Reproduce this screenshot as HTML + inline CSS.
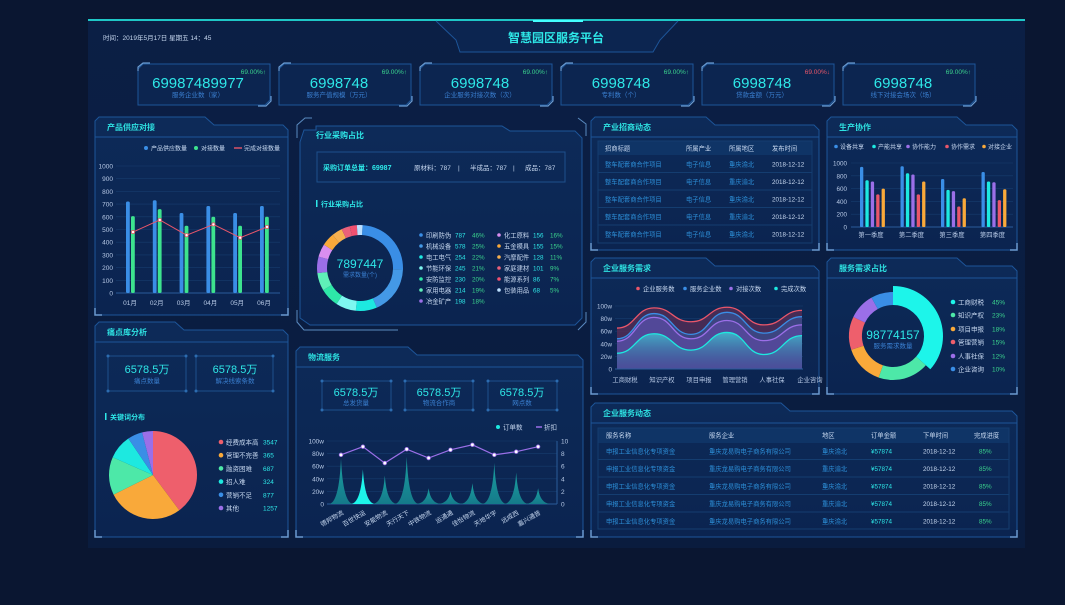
<!DOCTYPE html>
<html><head><meta charset="utf-8">
<style>
html,body{margin:0;padding:0;background:#0a1631;}
body{width:1065px;height:600px;overflow:hidden;font-family:"Liberation Sans","Noto Sans CJK SC",sans-serif;}
svg text{font-family:"Liberation Sans","Noto Sans CJK SC",sans-serif;}
</style></head><body>
<svg id="s" width="1065" height="600" viewBox="0 0 1065 600" xmlns="http://www.w3.org/2000/svg">
<defs>
<linearGradient id="bgG" x1="0" y1="0" x2="0" y2="1"><stop offset="0" stop-color="#0b1f45"/><stop offset="1" stop-color="#0a1c3e"/></linearGradient>
<linearGradient id="panG" x1="0" y1="0" x2="0" y2="1"><stop offset="0" stop-color="#0d2a58"/><stop offset="1" stop-color="#0b2450"/></linearGradient>
<linearGradient id="cyanA" x1="0" y1="0" x2="0" y2="1"><stop offset="0" stop-color="#3fd0d8" stop-opacity="0.75"/><stop offset="1" stop-color="#2a6aa0" stop-opacity="0.15"/></linearGradient>
<linearGradient id="spk" x1="0" y1="0" x2="0" y2="1"><stop offset="0" stop-color="#1a9fa0"/><stop offset="1" stop-color="#157a8a"/></linearGradient>
</defs>
<rect x="0" y="0" width="1065" height="600" fill="#0a1631"/>
<rect x="88" y="20" width="937" height="528" fill="url(#bgG)"/>
<rect x="88" y="19" width="937" height="2" fill="#1fc7c7"/>
<g id="root"></g>
</svg>
<script>
// ---------- data ----------
const supplyMonths=["01月","02月","03月","04月","05月","06月"];
const supplyBlue=[720,730,630,685,630,685];
const supplyGreen=[605,660,530,600,530,600];
const supplyLine=[480,575,455,540,435,520];
const supplyTicks=[0,100,200,300,400,500,600,700,800,900,1000];

const coopCats=["第一季度","第二季度","第三季度","第四季度"];
const coopNames=["设备共享","产能共享","协作能力","协作需求","对接企业"];
const coopS1=[940,950,750,860];
const coopS2=[730,840,580,710];
const coopS3=[710,820,560,700];
const coopS4=[510,510,320,420];
const coopS5=[600,710,450,590];
const coopTicks=[0,200,400,600,800,1000];

const industryNames=["印刷防伪","机械设备","电工电气","节能环保","安防监控","家用电器","冶金矿产","化工原料","五金模具","汽摩配件","家庭建材","能源系列","包装用品"];
const industryValues=[787,578,254,245,230,214,198,156,155,128,101,86,68];
const industryPct=["46%","25%","22%","21%","20%","19%","18%","16%","15%","11%","9%","7%","5%"];

const painNames=["经费成本高","管理不完善","融资困难","招人难","营销不足","其他"];
const painLegendValues=[3547,365,687,324,877,1257];
const painShares=[40,28,14,9,5.5,4];

const logiCats=["德邦物流","百世快运","安能物流","天行天下","中铁物流","运通通","佳怡物流","天地华宇","远成西","嘉兴通普"];
const logiOrders=[72,55,45,75,25,20,33,65,50,25];
const logiDiscount=[7.8,9.1,6.5,8.7,7.3,8.6,9.4,7.8,8.3,9.1];
const logiTicksL=["0","20w","40w","60w","80w","100w"];
const logiTicksR=[0,2,4,6,8,10];

const demandCats=["工商财税","知识产权","项目申报","管理营销","人事社保","企业咨询"];
const demandNames=["企业服务数","服务企业数","对接次数","完成次数"];
const demandS1=[65,97,75,98,70,93];
const demandS2=[48,88,55,90,57,83];
const demandS3=[44,82,48,77,45,70];
const demandS4=[25,56,30,58,23,53];
const demandTicks=["0","20w","40w","60w","80w","100w"];

const ratioNames=["工商财税","知识产权","项目申报","管理营销","人事社保","企业咨询"];
const ratioValues=[45,23,18,15,12,10];

// ---------- helpers ----------
const NS="http://www.w3.org/2000/svg";
const root=document.getElementById('root');
function el(tag,attrs,parent,txt){const e=document.createElementNS(NS,tag);for(const k in attrs)e.setAttribute(k,attrs[k]);if(txt!==undefined)e.textContent=txt;(parent||root).appendChild(e);return e;}
function T(x,y,s,size,fill,anchor,name,weight){const t=el('text',{x:x,y:y,'font-size':size,fill:fill,'text-anchor':anchor||'start'},root,s);if(weight)t.setAttribute('font-weight',weight);


return t;}
function panel(x,y,w,h,title,tab,name){
  const g=el('g',{});
  
  
  el('path',{d:`M${x} ${y+4} L${x+4} ${y} L${x+tab} ${y} L${x+tab+9} ${y+8} L${x+w-5} ${y+8} L${x+w} ${y+13} L${x+w} ${y+h} L${x} ${y+h} Z`,fill:'url(#panG)',stroke:'#1d5599','stroke-width':1},g);
  el('line',{x1:x,y1:y+20,x2:x+w,y2:y+20,stroke:'#1d5599','stroke-width':1},g);
  el('path',{d:`M${x} ${y+h-7} L${x} ${y+h} L${x+7} ${y+h} M${x+w-7} ${y+h} L${x+w} ${y+h} L${x+w} ${y+h-7}`,fill:'none',stroke:'#6a9ad0','stroke-width':1.5},g);
  T(x+12,y+13,title,8,'#2ee3e3','start',name+'-title','bold');
}
function box(x,y,w,h,name){
  const r=el('rect',{x:x,y:y,width:w,height:h,fill:'none',stroke:'#1d4f8c','stroke-width':1});
  
  [[x,y],[x+w,y],[x,y+h],[x+w,y+h]].forEach(p=>el('circle',{cx:p[0],cy:p[1],r:1.5,fill:'#2c6cb0'}));
}
function dot(x,y,c,r){el('circle',{cx:x,cy:y,r:r||2,fill:c});}
function arc(cx,cy,r0,r1,a0,a1,fill,name){
  const p=(r,a)=>[cx+r*Math.sin(a),cy-r*Math.cos(a)];
  const L=(a1-a0)>Math.PI?1:0;
  const A=p(r1,a0),B=p(r1,a1),C=p(r0,a1),D=p(r0,a0);
  const e=el('path',{d:`M${A} A${r1} ${r1} 0 ${L} 1 ${B} L${C} A${r0} ${r0} 0 ${L} 0 ${D} Z`,fill:fill});
  
  return e;
}
function smooth(pts){let d=`M${pts[0][0]} ${pts[0][1]}`;for(let i=0;i<pts.length-1;i++){const p0=pts[i],p1=pts[i+1],mx=(p0[0]+p1[0])/2;d+=` C${mx} ${p0[1]} ${mx} ${p1[1]} ${p1[0]} ${p1[1]}`;}return d;}

// ---------- header ----------
(function(){
  const h=el('path',{d:'M436 21 L456 40 L460 52 L653 52 L660 40 L678 21',fill:'#0c2550',stroke:'#1d5599'});
  
  el('rect',{x:533,y:20,width:50,height:2,fill:'#4ff'});
  T(556,42,'智慧园区服务平台',12,'#2ee8e8','middle','page-title','bold');
  T(103,40,'时间：2019年5月17日    星期五    14：45',6.5,'#c7d8f0','start','datetime');
})();

// ---------- KPI cards ----------
const kpiValues=["69987489977","6998748","6998748","6998748","6998748","6998748"];
const kpiLabels=["服务企业数（家）","服务产值规模（万元）","企业服务对接次数（次）","专利数（个）","贷款金额（万元）","线下对接会场次（场）"];
const kpiUp=[true,true,true,true,false,true];
kpiValues.forEach((v,i)=>{
  const x=138+i*141,y=64,w=132,h=41;
  const g=el('path',{d:`M${x+5} ${y} L${x+w} ${y} L${x+w} ${y+h-5} L${x+w-5} ${y+h} L${x} ${y+h} L${x} ${y+5} Z`,fill:'#0c2550',stroke:'#1d5599'});
  
  el('path',{d:`M${x} ${y+7} L${x} ${y+3} L${x+5} ${y-1} L${x+12} ${y-1} M${x+w+1} ${y+h-9} L${x+w+1} ${y+h-4} L${x+w-4} ${y+h+1} L${x+w-12} ${y+h+1}`,fill:'none',stroke:'#6a9ad0','stroke-width':1.2});
  T(x+w-4,y+10,kpiUp[i]?'69.00%↑':'69.00%↓',6.5,kpiUp[i]?'#3bd48e':'#e9566a','end','kpi-change');
  T(x+w/2-6,y+24,v,15,'#2ee8e8','middle','kpi-value');
  T(x+w/2-6,y+33,kpiLabels[i],6.5,'#3a7fd0','middle','kpi-label');
});

// ---------- 产品供应对接 ----------
panel(95,117,193,198,'产品供应对接',110,'supply-panel');
(function(){
  const x0=116,x1=280,y0=293,y1=166;
  const yS=v=>y0-(v/1000)*(y0-y1);
  const xS=i=>132+i*26.8;
  supplyTicks.forEach(t=>{el('line',{x1:x0,y1:yS(t),x2:x1,y2:yS(t),stroke:'#163c6e','stroke-width':0.6});T(x0-3,yS(t)+2.5,String(t),6.5,'#b7c9e6','end','y-tick');});
  el('line',{x1:x0,y1:y0,x2:x1,y2:y0,stroke:'#2a5c9a'});
  supplyMonths.forEach((m,i)=>{
    const b=el('rect',{x:xS(i)-6,y:yS(supplyBlue[i]),width:3.8,height:y0-yS(supplyBlue[i]),fill:'#3a8ee6',rx:1.5});
    
    const g=el('rect',{x:xS(i)-1,y:yS(supplyGreen[i]),width:3.8,height:y0-yS(supplyGreen[i]),fill:'#3de38e',rx:1.5});
    
    T(xS(i)-2,305,m,6.5,'#b7c9e6','middle','x-tick');
  });
  const pts=supplyLine.map((v,i)=>[xS(i)+1,yS(v)]);
  const l=el('polyline',{points:pts.map(p=>p.join(',')).join(' '),fill:'none',stroke:'#e9566a','stroke-width':1});
  
  pts.forEach(p=>el('circle',{cx:p[0],cy:p[1],r:1.6,fill:'#fff',stroke:'#e9566a','stroke-width':0.8}));
  dot(146,148,'#3a8ee6');T(151,150.5,'产品供应数量',6,'#c7d8f0','start','legend-entry');
  dot(196,148,'#3de38e');T(201,150.5,'对接数量',6,'#c7d8f0','start','legend-entry');
  el('line',{x1:234,y1:148,x2:242,y2:148,stroke:'#e9566a','stroke-width':1.4});T(244,150.5,'完成对接数量',6,'#c7d8f0','start','legend-entry');
})();

// ---------- 痛点库分析 ----------
panel(95,322,193,215,'痛点库分析',80,'pain-panel');
(function(){
  box(108,356,78,35,'pain-box-1');box(196,356,77,35,'pain-box-2');
  T(147,373,'6578.5万',11,'#2ee8e8','middle','pain-count');T(147,383,'痛点数量',6.5,'#3a7fd0','middle','label');
  T(235,373,'6578.5万',11,'#2ee8e8','middle','solve-count');T(235,383,'解决线索条数',6.5,'#3a7fd0','middle','label');
  el('rect',{x:105,y:413,width:1.5,height:7,fill:'#2ee8e8'});
  T(110,419.5,'关键词分布',7,'#2ee8e8','start','keyword-title','bold');
  const cols=['#ee5f6c','#f9a93a','#4de8a8','#1de9e0','#3a8ee6','#9b6fe8'];
  const tot=painShares.reduce((a,b)=>a+b,0);let a=0;
  painShares.forEach((v,i)=>{const a1=a+v/tot*2*Math.PI;arc(153,475,0,44,a,a1,cols[i],'pie-'+painNames[i]);a=a1;});
  painNames.forEach((n,i)=>{const y=442+i*13.2;dot(221,y,cols[i],2.3);T(226,y+2.5,n,6.5,'#c7d8f0','start','legend-entry');T(263,y+2.5,String(painLegendValues[i]),6.5,'#2ee8e8','start','legend-value');});
})();

// ---------- 行业采购占比 ----------
(function(){
  el('path',{d:'M300 142 L304 130 L316 130 L316 126 L502 126 L510 131 L575 131 L582 138 L582 318 L575 325 L310 325 L300 318 Z',fill:'url(#panG)',stroke:'#1d5599'});
  el('path',{d:'M297 138 L297 125 L305 118 L312 118 M578 118 L586 124 L586 136 M297 310 L297 322 L304 330 L398 330 M586 312 L586 322 L578 330',fill:'none',stroke:'#5a8ac0','stroke-width':1});
  T(316,138,'行业采购占比',8,'#2ee8e8','start','industry-title','bold');
  el('rect',{x:317,y:152,width:248,height:30,fill:'none',stroke:'#1d4f8c'});
  T(323,170,'采购订单总量：69987',7,'#2ee8e8','start','order-total','bold');
  T(414,170,'原材料：787',6.5,'#c7d8f0','start','raw-material');T(458,170,'|',6.5,'#c7d8f0');
  T(470,170,'半成品：787',6.5,'#c7d8f0','start','semi-product');T(513,170,'|',6.5,'#c7d8f0');
  T(525,170,'成品：787',6.5,'#c7d8f0','start','product');
  el('rect',{x:316,y:200,width:1.5,height:7,fill:'#2ee8e8'});
  T(321,206.5,'行业采购占比',7,'#2ee8e8','start','industry-sub-title','bold');
  const cols=['#3a8ee6','#4499e6','#1de9e0','#7ef7f0','#2ee8a8','#5ff0b8','#9b6fe8','#d98ef0','#f9a93a','#f5b050','#e9607a','#f05070','#bde0ff'];
  const tot=industryValues.reduce((a,b)=>a+b,0);let a=0.06;
  industryValues.forEach((v,i)=>{const a1=a+v/tot*2*Math.PI;arc(360,268,33,43,a,a1,cols[i],'donut-'+industryNames[i]);a=a1;});
  T(360,268,'7897447',12,'#2ee8e8','middle','demand-total');
  T(360,277,'需求数量(个)',6,'#3a7fd0','middle','label');
  industryNames.forEach((n,i)=>{
    const c=i<7?0:1,r=i<7?i:i-7;const bx=c?499:421,y=235+r*11;
    dot(bx,y,cols[i],1.8);T(bx+5,y+2.3,n,6.3,'#c7d8f0','start','legend-entry');
    T(bx+34,y+2.3,String(industryValues[i]),6.3,'#2ee8e8','start','legend-value');
    T(bx+51,y+2.3,industryPct[i],6.3,'#3bd48e','start','legend-pct');
  });
})();

// ---------- 物流服务 ----------
panel(296,347,287,190,'物流服务',112,'logistics-panel');
(function(){
  box(322,381,69,29,'logi-box-1');box(405,381,68,29,'logi-box-2');box(488,381,69,29,'logi-box-3');
  [['总发货量',356],['物流合作商',439],['网点数',522]].forEach(p=>{T(p[1],396,'6578.5万',11,'#2ee8e8','middle','logi-value');T(p[1],405,p[0],6.5,'#3a7fd0','middle','label');});
  dot(498,427,'#1de9e0');T(503,429.5,'订单数',6.5,'#c7d8f0','start','legend-entry');
  el('line',{x1:536,y1:427,x2:542,y2:427,stroke:'#9b6fe8','stroke-width':1.5});T(544,429.5,'折扣',6.5,'#c7d8f0','start','legend-entry');
  const x0=327,x1=557,y0=504,y1=441;
  const yL=v=>y0-v/100*(y0-y1),yR=v=>y0-v/10*(y0-y1);
  const xS=i=>341+i*21.9;
  logiTicksL.forEach((t,i)=>{const y=y0-i*(y0-y1)/5;el('line',{x1:x0,y1:y,x2:x1,y2:y,stroke:'#163c6e','stroke-width':0.6});T(x0-3,y+2.5,t,6.5,'#b7c9e6','end','y-tick');});
  logiTicksR.forEach(t=>T(x1+4,yR(t)+2.5,String(t),6.5,'#b7c9e6','start','y2-tick'));
  el('line',{x1:x0,y1:y0,x2:x1,y2:y0,stroke:'#2a5c9a'});
  el('line',{x1:x1,y1:y0,x2:x1,y2:y1,stroke:'#2a5c9a'});
  logiOrders.forEach((v,i)=>{const cx=xS(i),py=yL(v),w=12;
    const p=el('path',{d:`M${cx-w} ${y0} Q${cx-2} ${y0-1} ${cx} ${py} Q${cx+2} ${y0-1} ${cx+w} ${y0} Z`,fill:i===1?'#1df5ea':'url(#spk)'});
    
    const t=T(cx+3,y0+10,logiCats[i],6.3,'#c7d8f0','end','x-tick');t.setAttribute('transform',`rotate(-30 ${cx+3} ${y0+10})`);
  });
  const pts=logiDiscount.map((v,i)=>[xS(i),yR(v)]);
  const l=el('polyline',{points:pts.map(p=>p.join(',')).join(' '),fill:'none',stroke:'#9b6fe8','stroke-width':1.2});
  
  pts.forEach(p=>el('circle',{cx:p[0],cy:p[1],r:1.8,fill:'#fff',stroke:'#9b6fe8','stroke-width':0.8}));
})();

// ---------- 产业招商动态 ----------
panel(591,117,228,133,'产业招商动态',115,'investment-panel');
(function(){
  el('rect',{x:598,y:141,width:214,height:14,fill:'#0f3466'});
  el('rect',{x:598,y:141,width:214,height:102,fill:'none',stroke:'#143d70'});
  [['招商标题',605],['所属产业',686],['所属地区',729],['发布时间',772]].forEach(h=>T(h[1],150.5,h[0],6.3,'#c7d8f0','start','table-header'));
  for(let r=0;r<5;r++){const y=166.5+r*17.5;
    if(r<4)el('line',{x1:598,y1:y+6,x2:812,y2:y+6,stroke:'#143d70'});
    T(605,y,'整车配套商合作项目',6.3,'#2d8fd8','start','cell-title');
    T(686,y,'电子信息',6.3,'#2d8fd8','start','cell-industry');
    T(729,y,'重庆渝北',6.3,'#2d8fd8','start','cell-region');
    T(772,y,'2018-12-12',6.3,'#c7d8f0','start','cell-date');}
})();

// ---------- 生产协作 ----------
panel(827,117,190,133,'生产协作',130,'coop-panel');
(function(){
  const cols=['#3a8ee6','#1de9e0','#9b6fe8','#e9566a','#f9a93a'];
  const series=[coopS1,coopS2,coopS3,coopS4,coopS5];
  const x0=851,x1=1013,y0=227,y1=163;const yS=v=>y0-v/1000*(y0-y1);const xS=i=>872+i*40.5;
  coopTicks.forEach(t=>{el('line',{x1:x0,y1:yS(t),x2:x1,y2:yS(t),stroke:'#163c6e','stroke-width':0.6});T(x0-4,yS(t)+2.5,String(t),6.3,'#b7c9e6','end','y-tick');});
  el('line',{x1:x0,y1:y0,x2:x1,y2:y0,stroke:'#2a5c9a'});
  coopCats.forEach((c,i)=>{series.forEach((s,k)=>{const b=el('rect',{x:xS(i)-12+k*5.4,y:yS(s[i]),width:3.3,height:y0-yS(s[i]),fill:cols[k],rx:1.3});
    });
    T(xS(i)-1,237,c,6.3,'#b7c9e6','middle','x-tick');});
  const lx=[836,874,908,947,984];
  coopNames.forEach((n,k)=>{dot(lx[k],146.5,cols[k],1.8);T(lx[k]+4,149,n,6,'#c7d8f0','start','legend-entry');});
})();

// ---------- 企业服务需求 ----------
panel(591,258,228,136,'企业服务需求',115,'demand-panel');
(function(){
  const x0=615,x1=803,y0=369,y1=306;const yS=v=>y0-v/100*(y0-y1);
  const xs=[617,654,691,727,764,802];
  demandTicks.forEach((t,i)=>{const y=y0-i*(y0-y1)/5;el('line',{x1:x0,y1:y,x2:x1,y2:y,stroke:'#163c6e','stroke-width':0.6});T(x0-3,y+2.5,t,6.3,'#b7c9e6','end','y-tick');});
  const series=[demandS1,demandS2,demandS3,demandS4];
  const cols=['#e9566a','#3a8ee6','#9b6fe8','#1de9e0'];
  const fills=['#5a2e55','#3a4f90','#5a4aa0','url(#cyanA)'];
  series.forEach((s,k)=>{const pts=s.map((v,i)=>[xs[i],yS(v)]);const d=smooth(pts);
    const a=el('path',{d:d+` L${xs[5]} ${y0} L${xs[0]} ${y0} Z`,fill:fills[k],'fill-opacity':k===3?1:0.75});
    
    const l=el('path',{d:d,fill:'none',stroke:cols[k],'stroke-width':1.3});
    });
  el('line',{x1:x0,y1:y0,x2:x1,y2:y0,stroke:'#2a5c9a'});
  demandCats.forEach((c,i)=>T(xs[i]+8,382,c,6.3,'#b7c9e6','middle','x-tick'));
  const lx=[638,685,731,776];
  demandNames.forEach((n,k)=>{dot(lx[k],288.5,cols[k],1.8);T(lx[k]+5,291,n,6.3,'#c7d8f0','start','legend-entry');});
})();

// ---------- 服务需求占比 ----------
panel(827,258,190,136,'服务需求占比',130,'ratio-panel');
(function(){
  const cols=['#1df5ea','#4de8a8','#f9a93a','#ee5f6c','#9b6fe8','#3a8ee6'];
  const tot=ratioValues.reduce((a,b)=>a+b,0);let a=0;
  ratioValues.forEach((v,i)=>{const a1=a+v/tot*2*Math.PI;arc(893,336,31,i===0?50:44,a,a1,cols[i],'donut-'+ratioNames[i]);a=a1;});
  T(893,339,'98774157',12,'#2ee8e8','middle','service-total');
  T(893,348,'服务需求数量',6.5,'#3a7fd0','middle','label');
  ratioNames.forEach((n,i)=>{const y=[302,315,329,342,356,369][i];dot(953,y,cols[i],2.3);T(958,y+2.5,n,6.5,'#c7d8f0','start','legend-entry');T(992,y+2.5,ratioValues[i]+'%',6.5,'#3bd48e','start','legend-pct');});
})();

// ---------- 企业服务动态 ----------
panel(591,403,426,134,'企业服务动态',190,'service-table-panel');
(function(){
  el('rect',{x:598,y:428,width:411,height:15,fill:'#0f3466'});
  el('rect',{x:598,y:428,width:411,height:101,fill:'none',stroke:'#143d70'});
  [['服务名称',606],['服务企业',709],['地区',822],['订单金额',871],['下单时间',923],['完成进度',974]].forEach(h=>T(h[1],437.5,h[0],6.3,'#c7d8f0','start','table-header'));
  for(let r=0;r<5;r++){const y=453.5+r*17.5;
    if(r<4)el('line',{x1:598,y1:y+6,x2:1009,y2:y+6,stroke:'#143d70'});
    T(606,y,'申报工业信息化专项资金',6.3,'#2d8fd8','start','cell-name');
    T(709,y,'重庆龙易购电子商务有限公司',6.3,'#2d8fd8','start','cell-company');
    T(822,y,'重庆渝北',6.3,'#2d8fd8','start','cell-region');
    T(871,y,'¥57874',6.3,'#2ee8e8','start','cell-amount');
    T(923,y,'2018-12-12',6.3,'#c7d8f0','start','cell-date');
    T(979,y,'85%',6.3,'#3bd48e','start','cell-progress');}
})();
</script>
</body></html>
